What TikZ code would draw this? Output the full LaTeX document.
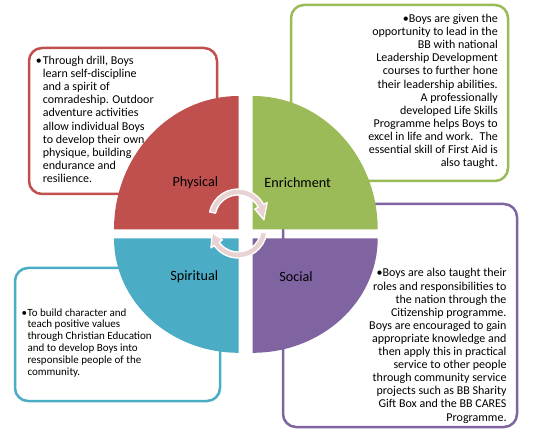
\documentclass[tikz,border=0pt]{standalone}
\usepackage{fontspec}
\setmainfont{Carlito}
\definecolor{physred}{HTML}{C0504D}
\definecolor{enrgreen}{HTML}{9BBB59}
\definecolor{spirblue}{HTML}{4BACC6}
\definecolor{socpurple}{HTML}{8064A2}
\definecolor{arrowpink}{RGB}{232,210,210}

\begin{document}
\begin{tikzpicture}[x=1pt,y=1pt,
	frame/.style={line width=2.5pt,rounded corners=13pt,fill=white},
	note/.style={inner sep=0pt,font=\fontsize{12}{13.1}\selectfont},
	quadlabel/.style={font=\fontsize{14.2}{16}\selectfont},
	cyclearrow/.style={fill=arrowpink,draw=white,line width=1.3pt,line join=round}]
	\useasboundingbox (0,0) rectangle (533,437);
	% frames round the texts
	\draw[frame,draw=physred] (29,243) rectangle (217,389);
	\draw[frame,draw=enrgreen] (291,256) rectangle (508,432);
	\draw[frame,draw=spirblue] (15,36) rectangle (220,169);
	\draw[frame,draw=socpurple] (283,10) rectangle (517,233);
	% texts
	\node[note,anchor=north west,align=left] (physnote) at (42.7,381) {\llap{•\hspace{1pt}}Through drill, Boys\\learn self-discipline\\and a spirit of\\comradeship. Outdoor\\adventure activities\\allow individual Boys\\to develop their own\\physique, building\\endurance and\\resilience.};
	\node[note,anchor=north east,align=right] (enrnote) at (498,423) {•Boys are given the\\opportunity to lead in the\\BB with national\\Leadership Development\\courses to further hone\\their leadership abilities.\\A professionally\\developed Life Skills\\Programme helps Boys to\\excel in life and work.~ The\\essential skill of First Aid is\\also taught.};
	\node[note,font=\fontsize{11}{11.9}\selectfont,anchor=north west,align=left] (spirnote) at (27.3,128.8) {\llap{•\hspace{0.5pt}}To build character and\\teach positive values\\through Christian Education\\and to develop Boys into\\responsible people of the\\community.};
	\node[note,anchor=north east,align=right] (socnote) at (506.7,168.6) {•Boys are also taught their\\roles and responsibilities to\\the nation through the\\Citizenship programme.\\Boys are encouraged to gain\\appropriate knowledge and\\then apply this in practical\\service to other people\\through community service\\projects such as BB Sharity\\Gift Box and the BB CARES\\Programme.};
	% the four quarters
	\fill[physred] (238.7,207.5) -- ++(-124.7,0) arc[start angle=180,end angle=90,x radius=124.7,y radius=133.5] -- cycle;
	\fill[enrgreen] (252.7,207.5) -- ++(125,0) arc[start angle=0,end angle=90,x radius=125,y radius=133.5] -- cycle;
	\fill[spirblue] (238.7,198.7) -- ++(-124.7,0) arc[start angle=180,end angle=270,x radius=124.7,y radius=114.5] -- cycle;
	\fill[socpurple] (252.7,198.7) -- ++(125,0) arc[start angle=0,end angle=-90,x radius=125,y radius=114.5] -- cycle;
	\fill[socpurple] (282.3,201.7) rectangle (284.3,203.7);
	\node[quadlabel] (physical) at (195.3,254.7) {Physical};
	\node[quadlabel] (enrichment) at (297.7,254.7) {Enrichment};
	\node[quadlabel] (spiritual) at (194.3,160.3) {Spiritual};
	\node[quadlabel] (social) at (296,160.3) {Social};
	% arrows in the middle
	\filldraw[cyclearrow,shift={(238,219)}] (168:29) arc[start angle=168,end angle=28,radius=29] -- (28:33) -- (-4:26) -- (28:19) -- (28:23) arc[start angle=28,end angle=168,radius=23] -- cycle;
	\filldraw[cyclearrow,shift={(238,208)}] (-8:29) arc[start angle=-8,end angle=-145,radius=29] -- (-145:33) -- (-172:26) -- (-145:19) -- (-145:23) arc[start angle=-145,end angle=-8,radius=23] -- cycle;
\end{tikzpicture}
\end{document}
